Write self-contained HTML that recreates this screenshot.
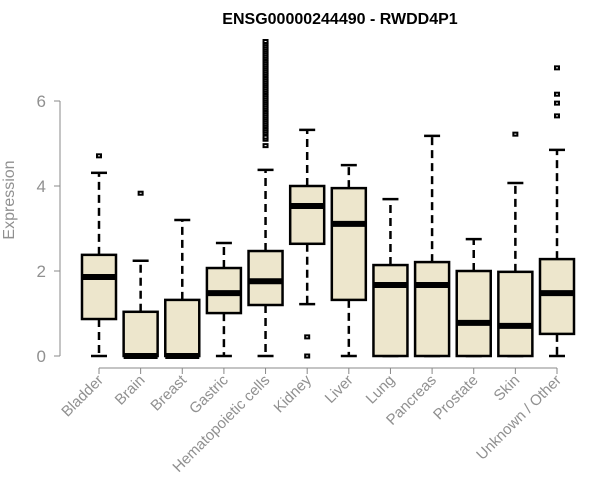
<!DOCTYPE html>
<html><head><meta charset="utf-8"><style>
body{margin:0;background:#fff}
svg{display:block;font-family:"Liberation Sans",Arial,sans-serif}
</style></head><body>
<svg id="chart" width="600" height="500">
<text x="340" y="24" text-anchor="middle" font-weight="bold" font-size="16">ENSG00000244490 - RWDD4P1</text>
<text transform="translate(14,200) rotate(-90)" text-anchor="middle" font-size="16" fill="#909090">Expression</text>
<g id="axes"></g><g id="boxes"></g>
</svg>
<script>
const categories=["Bladder","Brain","Breast","Gastric","Hematopoietic cells","Kidney","Liver","Lung","Pancreas","Prostate","Skin","Unknown / Other"];
const q1=[0.87,0,0,1.01,1.2,2.64,1.32,0,0,0,0,0.52];
const medians=[1.86,0,0,1.48,1.76,3.53,3.11,1.67,1.67,0.78,0.71,1.48];
const q3=[2.38,1.04,1.32,2.07,2.47,4.0,3.95,2.14,2.21,2.0,1.98,2.28];
const whiskLow=[0,0,0,0,0,1.22,0,0,0,0,0,0];
const whiskHigh=[4.31,2.24,3.2,2.66,4.38,5.32,4.49,3.69,5.18,2.75,4.07,4.85];
const outliers=[[4.71],[3.83],[],[],[4.95,5.1,5.15,5.25,5.3,5.35,5.4,5.45,5.5,5.55,5.6,5.65,5.7,5.75,5.8,5.85,5.9,5.95,6.0,6.05,6.1,6.15,6.2,6.25,6.3,6.35,6.4,6.45,6.5,6.55,6.6,6.65,6.7,6.75,6.8,6.85,6.9,6.95,7.0,7.05,7.1,7.15,7.2,7.25,7.3,7.35,7.4],[0.45,0],[],[],[],[],[5.22],[5.65,5.95,6.16,6.78]];
const yTicks=[0,2,4,6];
const NS="http://www.w3.org/2000/svg";
const y=v=>356-42.5*v;
const x=i=>99+i*(557-99)/11;
function mk(t,a,p){const e=document.createElementNS(NS,t);for(const k in a)e.setAttribute(k,a[k]);p.appendChild(e);return e;}
const ax=document.getElementById('axes'),bx=document.getElementById('boxes');
let l=mk('line',{x1:60,y1:y(0),x2:60,y2:y(6),stroke:'#888'},ax);


yTicks.forEach(t=>{
 let tk=mk('line',{x1:54,x2:60,y1:y(t),y2:y(t),stroke:'#888'},ax);
 
 
 let tx=mk('text',{x:46,y:y(t)+6,'text-anchor':'end','font-size':17,fill:'#909090'},ax);
 tx.textContent=t;
 
 
});
l=mk('line',{x1:x(0),x2:x(11),y1:368,y2:368,stroke:'#888'},ax);


const hw=17;
categories.forEach((c,i)=>{
 const cx=x(i);
 let tk=mk('line',{x1:cx,x2:cx,y1:368,y2:374,stroke:'#888'},ax);
 
 
 let tx=mk('text',{transform:`translate(${cx+5},${381}) rotate(-45)`,'text-anchor':'end','font-size':15,fill:'#909090'},ax);
 tx.textContent=c;
 
 
 const g=mk('g',{},bx);
 
 
 mk('line',{x1:cx,x2:cx,y1:y(q3[i]),y2:y(whiskHigh[i]),stroke:'#000','stroke-width':2.5,'stroke-dasharray':'8,5'},g);
 mk('line',{x1:cx,x2:cx,y1:y(q1[i]),y2:y(whiskLow[i]),stroke:'#000','stroke-width':2.5,'stroke-dasharray':'8,5'},g);
 mk('line',{x1:cx-8,x2:cx+8,y1:y(whiskHigh[i]),y2:y(whiskHigh[i]),stroke:'#000','stroke-width':2.5},g);
 mk('line',{x1:cx-8,x2:cx+8,y1:y(whiskLow[i]),y2:y(whiskLow[i]),stroke:'#000','stroke-width':2.5},g);
 mk('rect',{x:cx-hw,y:y(q3[i]),width:2*hw,height:y(q1[i])-y(q3[i]),fill:'#ede6cc',stroke:'#000','stroke-width':2.5},g);
 mk('line',{x1:cx-hw,x2:cx+hw,y1:y(medians[i]),y2:y(medians[i]),stroke:'#000','stroke-width':6},g);
 outliers[i].forEach(v=>{
  const o=mk('rect',{x:cx-2,y:y(v)-1.5,width:4,height:3,fill:'#fff',stroke:'#000','stroke-width':2},g);
  
  
 });
});
</script>
</body></html>
